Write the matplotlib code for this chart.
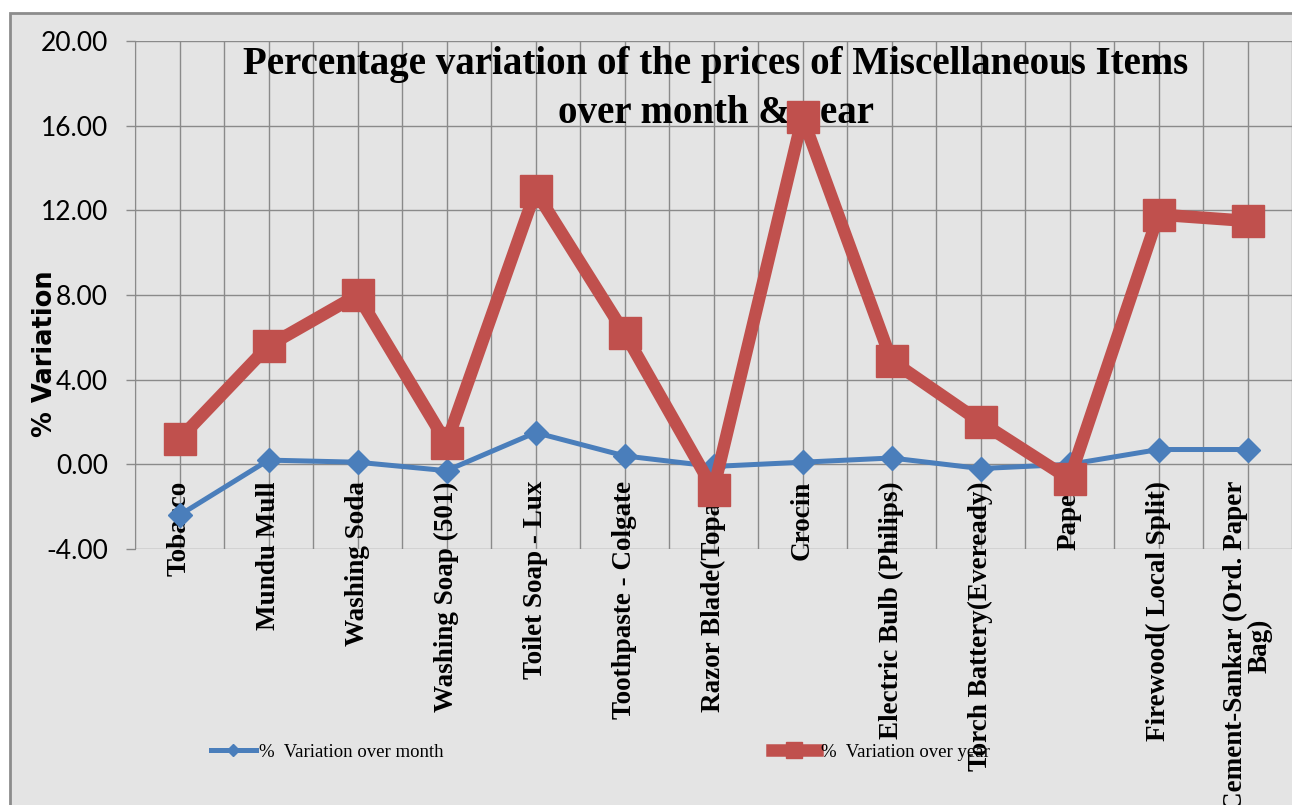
import matplotlib
matplotlib.use("Agg")
import matplotlib.pyplot as plt
from matplotlib.patches import Rectangle

categories = ["Tobacco", "Mundu Mull", "Washing Soda", "Washing Soap (501)",
              "Toilet Soap - Lux", "Toothpaste - Colgate", "Razor Blade(Topaz)",
              "Crocin", "Electric Bulb (Philips)", "Torch Battery(Eveready)",
              "Paper", "Firewood( Local Split)", "Cement-Sankar (Ord. Paper\nBag)"]
var_month = [-2.4, 0.2, 0.1, -0.3, 1.5, 0.4, -0.1, 0.1, 0.3, -0.2, 0.0, 0.7, 0.7]
var_year = [1.2, 5.6, 8.0, 1.0, 12.9, 6.2, -1.2, 16.4, 4.9, 2.0, -0.7, 11.8, 11.5]
yticks = [-4, 0, 4, 8, 12, 16, 20]

W, H = 1292, 805
fig = plt.figure(figsize=(W / 100, H / 100), dpi=100)
fig.patch.set_facecolor("white")
bg = Rectangle((10 / W, -0.01), 1.0, 1 - 13 / H + 0.01,
               transform=fig.transFigure, facecolor="#e4e4e4",
               edgecolor="#8c8c8c", linewidth=2, zorder=-5)
fig.add_artist(bg)

ax = fig.add_axes([135 / W, 1 - 549 / H, (W - 135) / W, (549 - 41) / H])
ax.set_zorder(1)
ax.set_facecolor("none")
x = list(range(len(categories)))
ax.set_xlim(-0.5, len(categories) - 0.5)
ax.set_ylim(-4, 20)

ax.set_yticks(yticks)
ax.set_yticklabels([f"{v:.2f}" for v in yticks], fontfamily="Lato", fontsize=19)
ax.tick_params(axis="y", length=6.5, pad=13, color="#8a8a8a", width=1)
ax.set_xticks([i * 0.5 - 0.5 for i in range(2 * len(categories) + 1)])
ax.set_xticklabels([])
ax.tick_params(axis="x", length=0)
ax.grid(True, color="#8a8a8a", linewidth=1)
for s in ["top", "right", "bottom"]:
    ax.spines[s].set_visible(False)
ax.spines["left"].set_color("#8a8a8a")
ax.set_axisbelow(True)

ax.plot(x, var_month, color="#4a7ebb", linewidth=3.6, marker="D", markersize=12,
        label="%  Variation over month", zorder=4)
ax.plot(x, var_year, color="#c0504d", linewidth=9, marker="s", markersize=23,
        label="%  Variation over year", zorder=5)

for i, c in enumerate(categories):
    ax.annotate(c, xy=(i, 0), xytext=(0, -12), textcoords="offset points",
                rotation=90, ha="center", va="top", multialignment="center",
                fontfamily="Liberation Serif", fontweight="bold", fontsize=19.5,
                linespacing=0.95, zorder=3, annotation_clip=False)

fig.text(45 / W, 1 - 354 / H, "% Variation", rotation=90, ha="center",
         va="center", fontfamily="DejaVu Sans", fontweight="bold", fontsize=18.5)

ax.text(716 / W, 1 - 46 / H,
        "Percentage variation of the prices of Miscellaneous Items\nover month & year",
        transform=fig.transFigure, ha="center", va="top",
        fontfamily="Liberation Serif", fontweight="bold",
        fontsize=28, linespacing=1.42, zorder=3)

fig.legend(loc="center", bbox_to_anchor=(600 / W, 1 - 752 / H), ncol=2,
           frameon=False, prop={"family": "Liberation Serif", "size": 13.5},
           handlelength=2.4, handletextpad=0.2, columnspacing=17.5,
           markerscale=0.5)

fig.savefig("out.png", dpi=100, facecolor=fig.get_facecolor())
